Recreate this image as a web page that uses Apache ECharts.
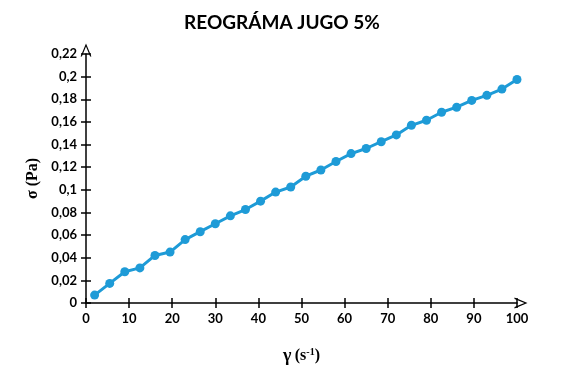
<!DOCTYPE html>
<html>
<head>
<meta charset="utf-8">
<script src="https://cdn.jsdelivr.net/npm/echarts@6/dist/echarts.min.js"></script>
<style>html,body{margin:0;padding:0;background:#fff}#c{width:563px;height:375px}</style>
</head>
<body>
<div id="c"></div>
<script>
var title = 'REOGRÁMA JUGO 5%';
var shearRate = [2, 5.5, 9, 12.5, 16, 19.5, 23, 26.5, 30, 33.5, 37, 40.5, 44, 47.5, 51, 54.5, 58, 61.5, 65, 68.5, 72, 75.5, 79, 82.5, 86, 89.5, 93, 96.5, 100];
var stress = [0.007, 0.0173, 0.0276, 0.031, 0.042, 0.045, 0.056, 0.063, 0.070, 0.077, 0.0826, 0.090, 0.098, 0.1025, 0.112, 0.1175, 0.125, 0.132, 0.1365, 0.1425, 0.1485, 0.157, 0.1615, 0.1685, 0.173, 0.179, 0.1835, 0.189, 0.1975];
var xRange = [0, 100, 10];
var yRange = [0, 0.22, 0.02];

var chart = echarts.init(document.getElementById('c'));
var chevron = 'path://M0,12 L5,0 L10,12 L8.8,12 L5,2.8 L1.2,12 Z';
var fontLbl = 'Lato, sans-serif';
var data = shearRate.map(function (x, i) { return [x, stress[i]]; });
function fmt(v) { return String(Math.round(v * 100) / 100).replace('.', ','); }

chart.setOption({
  animation: false,
  title: {
    text: title, top: 8, left: 277, textAlign: 'center',
    textStyle: { fontFamily: fontLbl, fontWeight: 'bold', fontSize: 19, color: '#000' }
  },
  grid: { left: 86, right: 46, top: 54, bottom: 72 },
  xAxis: [{
    type: 'value', min: xRange[0], max: xRange[1], interval: xRange[2],
    axisLine: { show: true, lineStyle: { color: '#000', width: 1.5 }, symbol: ['none', chevron], symbolSize: [11, 13], symbolOffset: [0, 4] },
    axisTick: { show: true, length: 5, lineStyle: { color: '#000', width: 1.5 } },
    axisLabel: { color: '#000', fontFamily: fontLbl, fontWeight: 'bold', fontSize: 13, margin: 9 },
    splitLine: { show: false },
    name: '{g|γ} {p|(s}{s|-1}{p|)}', nameLocation: 'middle', nameGap: 44,
    nameTextStyle: { rich: {
      g: { fontFamily: 'Liberation Serif, serif', fontWeight: 'bold', fontSize: 18, color: '#000' },
      p: { fontFamily: 'Liberation Serif, serif', fontWeight: 'bold', fontSize: 16, color: '#000' },
      s: { fontFamily: 'Liberation Serif, serif', fontWeight: 'bold', fontSize: 10, color: '#000', verticalAlign: 'top', padding: [0, 0, 8, 0] }
    } }
  }, {
    type: 'value', min: xRange[0], max: xRange[1], interval: xRange[2], position: 'bottom',
    axisLine: { show: false }, axisLabel: { show: false }, splitLine: { show: false },
    axisTick: { show: true, inside: true, length: 5, lineStyle: { color: '#000', width: 1.5 } }
  }],
  yAxis: [{
    type: 'value', min: yRange[0], max: yRange[1], interval: yRange[2],
    axisLine: { show: true, lineStyle: { color: '#000', width: 1.5 }, symbol: ['none', chevron], symbolSize: [11, 13], symbolOffset: [0, 4] },
    axisTick: { show: true, length: 5, lineStyle: { color: '#000', width: 1.5 } },
    axisLabel: { color: '#000', fontFamily: fontLbl, fontWeight: 'bold', fontSize: 13, margin: 9, formatter: fmt },
    splitLine: { show: false },
    name: 'σ (Pa)', nameLocation: 'middle', nameGap: 42, nameRotate: 90,
    nameTextStyle: { fontFamily: 'Liberation Serif, serif', fontWeight: 'bold', fontSize: 16, color: '#000' }
  }, {
    type: 'value', min: yRange[0], max: yRange[1], interval: yRange[2], position: 'left',
    axisLine: { show: false }, axisLabel: { show: false }, splitLine: { show: false },
    axisTick: { show: true, inside: true, length: 5, lineStyle: { color: '#000', width: 1.5 } }
  }],
  series: [{
    type: 'line', data: data, xAxisIndex: 0, yAxisIndex: 0,
    symbol: 'circle', symbolSize: 9,
    lineStyle: { color: '#1e9bd7', width: 3 },
    itemStyle: { color: '#1e9bd7' }
  }]
});
</script>
</body>
</html>
